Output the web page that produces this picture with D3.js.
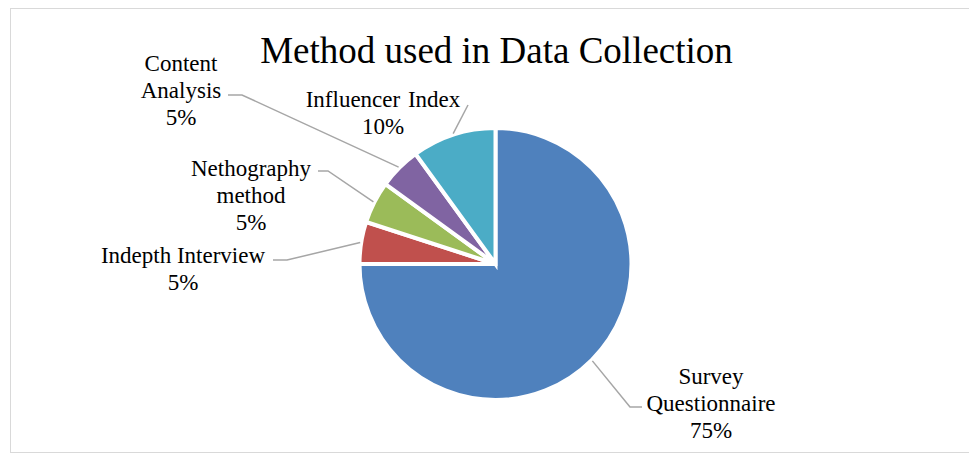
<!DOCTYPE html>
<html>
<head>
<meta charset="utf-8">
<script src="https://cdn.jsdelivr.net/npm/d3@7"></script>
<style>
  body { margin: 0; background: #fff; }
  text, tspan { font-family: "Liberation Serif", "Times New Roman", serif; fill: #000; }
</style>
</head>
<body>
<div id="chart"></div>
<script>
// data
var methods = ["Survey Questionnaire", "Indepth Interview", "Nethography method", "Content Analysis", "Influencer Index"];
var shares = [75, 5, 5, 5, 10];
var colors = ["#4F81BD", "#C0504D", "#9BBB59", "#8064A2", "#4BACC6"];

// label text lines and where the leader line meets the label
var labelLines = [
  ["Survey", "Questionnaire", "75%"],
  ["Indepth Interview", "5%"],
  ["Nethography", "method", "5%"],
  ["Content", "Analysis", "5%"],
  ["Influencer Index", "10%"]
];
// [elbow x, elbow y, end x, end y, text center x, first baseline y]
var labelLayout = [
  [630, 407, 642, 407, 711, 384],
  [287, 260, 273, 260, 183, 263],
  [328, 171, 318, 171, 251, 176],
  [242, 95, 228, 95, 181, 71],
  [468, 105, 468, 105, 383, 107]
];

var width = 969;
var height = 454;
var cx = 495.5, cy = 264, radius = 136;

var svg = d3.select("#chart").append("svg")
    .attr("width", width)
    .attr("height", height);

// chart border
svg.append("rect")
    .attr("x", 10.5)
    .attr("y", 8.5)
    .attr("width", 970)
    .attr("height", 444)
    .attr("fill", "none")
    .attr("stroke", "#D9D9D9")
    .attr("stroke-width", 1);

// title
svg.append("text")
    .attr("x", 496.5)
    .attr("y", 63)
    .attr("text-anchor", "middle")
    .attr("font-size", "37px")
    .text("Method used in Data Collection");

var pie = d3.pie().sort(null).value(d => d);
var arcs = pie(shares);

var arc = d3.arc().innerRadius(0).outerRadius(radius);

var pieGroup = svg.append("g")
    .attr("transform", `translate(${cx}, ${cy})`);

pieGroup.selectAll("path")
    .data(arcs)
    .enter()
    .append("path")
    .attr("d", arc)
    .attr("fill", (d, i) => colors[i])
    .attr("stroke", "#fff")
    .attr("stroke-width", 4)
    .attr("stroke-linejoin", "miter");

// leader lines
arcs.forEach(function (d, i) {
    var mid = (d.startAngle + d.endAngle) / 2;
    var r = radius + 1;
    var sx = cx + Math.sin(mid) * r;
    var sy = cy - Math.cos(mid) * r;
    var L = labelLayout[i];
    svg.append("polyline")
        .attr("points", `${sx},${sy} ${L[0]},${L[1]} ${L[2]},${L[3]}`)
        .attr("fill", "none")
        .attr("stroke", "#A6A6A6")
        .attr("stroke-width", 1.5);
});

// labels
labelLines.forEach(function (lines, i) {
    var L = labelLayout[i];
    var t = svg.append("text")
        .attr("text-anchor", "middle")
        .attr("font-size", "23px");
    lines.forEach(function (line, j) {
        t.append("tspan")
            .attr("x", L[4])
            .attr("y", L[5] + j * 26.8)
            .attr("word-spacing", i === 4 && j === 0 ? "2px" : null)
            .text(line);
    });
});
</script>
</body>
</html>
